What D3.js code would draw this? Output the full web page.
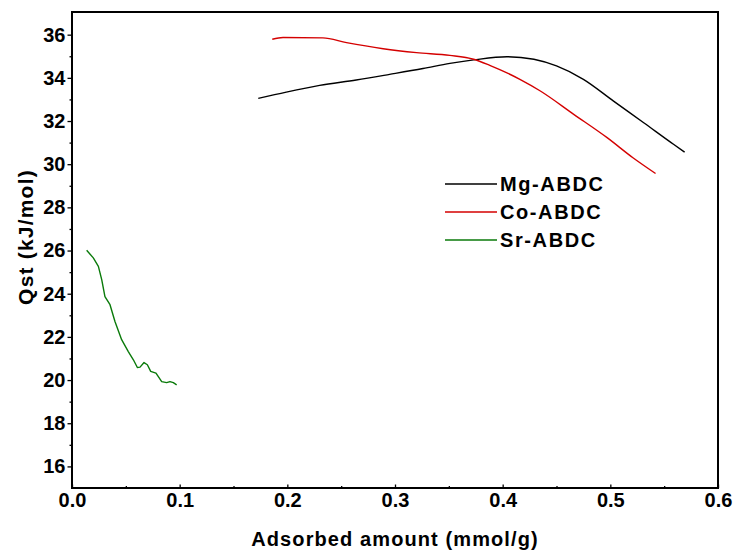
<!DOCTYPE html>
<html>
<head>
<meta charset="utf-8">
<script src="https://cdn.jsdelivr.net/npm/d3@7"></script>
<style>
  body { margin: 0; background: #fff; }
  text { font-family: "Liberation Sans", Arial, sans-serif; font-weight: bold; fill: #000; }
</style>
</head>
<body>
<svg id="chart"></svg>
<script>
// values
const seriesNames = ['Mg-ABDC', 'Co-ABDC', 'Sr-ABDC'];
const seriesColors = ['#000000', '#d40000', '#0a7a0a'];

const mgAmount = [0.173, 0.199, 0.230, 0.264, 0.295, 0.326, 0.351, 0.373, 0.404, 0.429, 0.450, 0.475, 0.503, 0.531, 0.559, 0.569];
const mgQst    = [33.05, 33.34, 33.65, 33.90, 34.16, 34.43, 34.67, 34.83, 34.98, 34.86, 34.55, 33.93, 32.92, 31.92, 30.91, 30.56];

const coAmount = [0.186, 0.196, 0.233, 0.255, 0.289, 0.320, 0.351, 0.373, 0.388, 0.416, 0.435, 0.466, 0.497, 0.521, 0.542];
const coQst    = [35.79, 35.87, 35.85, 35.63, 35.35, 35.17, 35.04, 34.86, 34.58, 33.93, 33.39, 32.31, 31.23, 30.30, 29.57];

const srAmount = [0.0136, 0.0198, 0.0245, 0.0276, 0.0306, 0.0353, 0.0399, 0.0461, 0.0523, 0.0570, 0.0607, 0.0632, 0.0669, 0.0700, 0.0731, 0.0780, 0.0833, 0.0879, 0.0910, 0.0941, 0.0972];
const srQst    = [26.01, 25.66, 25.27, 24.65, 23.87, 23.49, 22.71, 21.87, 21.32, 20.94, 20.58, 20.60, 20.81, 20.71, 20.40, 20.32, 19.93, 19.88, 19.93, 19.88, 19.78];

const xTicks = [0, 0.1, 0.2, 0.3, 0.4, 0.5, 0.6];
const yTicks = [16, 18, 20, 22, 24, 26, 28, 30, 32, 34, 36];

const config = {
  width: 736, height: 551,
  margin: { top: 12, right: 18, bottom: 63, left: 72 }
};
const innerW = config.width - config.margin.left - config.margin.right;
const innerH = config.height - config.margin.top - config.margin.bottom;

const svg = d3.select('#chart')
  .attr('width', config.width)
  .attr('height', config.height);

const g = svg.append('g')
  .attr('transform', `translate(${config.margin.left},${config.margin.top})`);

const x = d3.scaleLinear().domain([0, 0.6]).range([0, innerW]);
const y = d3.scaleLinear().domain([15, 37.05]).range([innerH, 0]);

// minor ticks
const xMinor = d3.range(0.05, 0.6, 0.1);
const yMinor = d3.range(17, 37, 2);

g.append('g')
  .attr('transform', `translate(0,${innerH})`)
  .call(d3.axisBottom(x).tickValues(xMinor).tickSize(-2).tickSizeOuter(0).tickFormat(''))
  .call(a => a.select('.domain').remove());

g.append('g')
  .call(d3.axisLeft(y).tickValues(yMinor).tickSize(2.5).tickSizeOuter(0).tickFormat(''))
  .call(a => a.select('.domain').remove());

// major axes
const xAxisG = g.append('g')
  .attr('transform', `translate(0,${innerH})`)
  .call(d3.axisBottom(x).tickValues(xTicks).tickFormat(d3.format('.1f')).tickSize(-3.5).tickPadding(5).tickSizeOuter(0));
xAxisG.select('.domain').remove();
xAxisG.selectAll('text').style('font-size', '20px').attr('fill', '#000');

const yAxisG = g.append('g')
  .call(d3.axisLeft(y).tickValues(yTicks).tickSize(4.5).tickPadding(2).tickSizeOuter(0));
yAxisG.select('.domain').remove();
yAxisG.selectAll('text').style('font-size', '20px').attr('fill', '#000');

g.selectAll('.tick line').attr('stroke', '#000').attr('stroke-width', 1.3);

// frame
g.append('rect')
  .attr('x', 0).attr('y', 0)
  .attr('width', innerW).attr('height', innerH)
  .attr('fill', 'none')
  .attr('stroke', '#000')
  .attr('stroke-width', 2);

// lines
const series = [
  { name: seriesNames[0], color: seriesColors[0], values: mgAmount.map((d, i) => [d, mgQst[i]]), curve: d3.curveMonotoneX },
  { name: seriesNames[1], color: seriesColors[1], values: coAmount.map((d, i) => [d, coQst[i]]), curve: d3.curveMonotoneX },
  { name: seriesNames[2], color: seriesColors[2], values: srAmount.map((d, i) => [d, srQst[i]]), curve: d3.curveLinear }
];

series.forEach(s => {
  g.append('path')
    .datum(s.values)
    .attr('fill', 'none')
    .attr('stroke', s.color)
    .attr('stroke-width', 1.4)
    .attr('stroke-linejoin', 'round')
    .attr('d', d3.line().x(d => x(d[0])).y(d => y(d[1])).curve(s.curve));
});

// legend
const legend = svg.append('g').attr('transform', 'translate(445,184)');
series.forEach((s, i) => {
  const row = legend.append('g').attr('transform', `translate(0,${i * 28})`);
  row.append('line')
    .attr('x1', 0).attr('x2', 52)
    .attr('stroke', s.color).attr('stroke-width', 1.4);
  row.append('text')
    .attr('x', 55).attr('dy', '0.33em')
    .style('font-size', '20px')
    .style('letter-spacing', '1.6px')
    .text(s.name);
});

// axis titles
svg.append('text')
  .attr('x', config.margin.left + innerW / 2)
  .attr('y', 546)
  .attr('text-anchor', 'middle')
  .style('font-size', '20px')
  .style('letter-spacing', '1.1px')
  .text('Adsorbed amount (mmol/g)');

svg.append('text')
  .attr('transform', 'translate(33,237) rotate(-90)')
  .attr('text-anchor', 'middle')
  .style('font-size', '21px')
  .style('letter-spacing', '1.2px')
  .text('Qst (kJ/mol)');
</script>
</body>
</html>
